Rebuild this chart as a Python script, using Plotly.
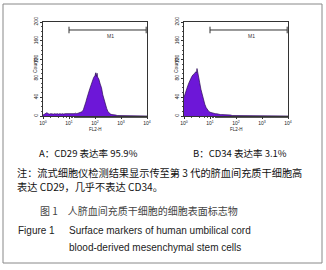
import plotly.graph_objects as go

W, H = 326, 270

# ---- data ----
# log10 channel positions (FL2-H) of histogram bins
log_pos_a = [0.00, 0.05, 0.10, 0.15, 0.20, 0.25, 0.30, 0.35, 0.40, 0.45,
             0.50, 0.55, 0.60, 0.65, 0.70, 0.75, 0.80, 0.85, 0.90, 0.95,
             1.00, 1.05, 1.10, 1.15, 1.20, 1.25, 1.30, 1.35, 1.40, 1.45,
             1.50, 1.55, 1.60, 1.65, 1.70, 1.75, 1.80, 1.85, 1.90, 1.95,
             2.00, 2.03, 2.05, 2.08, 2.10, 2.15, 2.20, 2.25, 2.30, 2.35,
             2.40, 2.45, 2.50, 2.55, 2.60, 2.65, 2.70, 2.75, 2.80, 2.85,
             2.90, 2.95, 3.00, 3.10, 3.20, 3.30, 3.40, 3.60, 3.80, 4.00]
counts_a = [2, 4, 6, 7, 5, 4, 5, 4, 4, 5,
            4, 5, 4, 5, 4, 5, 4, 5, 5, 4,
            5, 5, 4, 5, 5, 6, 5, 6, 7, 7,
            9, 13, 20, 30, 40, 51, 58, 66, 75, 82,
            86, 92, 84, 91, 83, 78, 68, 60, 45, 33,
            24, 16, 9, 6, 4, 3, 3, 2, 2, 1,
            1, 1, 1, 1, 0, 0, 0, 0, 0, 0]

log_pos_b = [0.00, 0.05, 0.10, 0.15, 0.20, 0.25, 0.30, 0.35, 0.40, 0.45,
             0.48, 0.50, 0.52, 0.55, 0.60, 0.65, 0.70, 0.75, 0.80, 0.85,
             0.90, 0.95, 1.00, 1.05, 1.10, 1.15, 1.20, 1.25, 1.30, 1.35,
             1.40, 1.45, 1.50, 1.55, 1.60, 1.65, 1.70, 1.75, 1.80, 1.85,
             1.90, 1.95, 2.00, 2.05, 2.10, 2.15, 2.30, 2.60, 3.00, 4.00]
counts_b = [40, 50, 58, 65, 72, 79, 84, 88, 90, 94,
            92, 101, 93, 86, 72, 57, 44, 33, 25, 18,
            13, 10, 8, 7, 6, 6, 5, 5, 4, 4,
            3, 3, 3, 3, 2, 2, 2, 2, 2, 1,
            1, 1, 1, 1, 1, 0, 0, 0, 0, 0]

y_ticks = [0, 40, 80, 120, 160, 200]
x_ticks = [1, 10, 100, 1000, 10000]
x_tick_text = ["10<sup>0</sup>", "10<sup>1</sup>", "10<sup>2</sup>",
               "10<sup>3</sup>", "10<sup>4</sup>"]

gate_lo, gate_hi, gate_y, gate_cap = 10, 9300, 183, 7
gate_name = "M1"

label_a = "A：CD29 表达率 95.9%"
label_b = "B：CD34 表达率 3.1%"
note_1 = "注：流式细胞仪检测结果显示传至第 3 代的脐血间充质干细胞高"
note_2 = "表达 CD29，几乎不表达 CD34。"
cap_cn = "图 1　人脐血间充质干细胞的细胞表面标志物"
cap_en_1a = "Figure 1"
cap_en_1b = "Surface markers of human umbilical cord"
cap_en_2 = "blood-derived mesenchymal stem cells"

# ---- helpers ----
def px(x):
    return x / W

def py(y):
    return 1 - y / H

FILL = "#6d17d8"
EDGE = "#2b0b55"
CJK = "Noto Sans CJK SC"
LAT = "Liberation Sans, Arial"

fig = go.Figure()

for i, (lp, cnt) in enumerate([(log_pos_a, counts_a), (log_pos_b, counts_b)]):
    xa = "x" if i == 0 else "x2"
    ya = "y" if i == 0 else "y2"
    fig.add_trace(go.Scatter(
        x=[10 ** v for v in lp], y=cnt, mode="lines", fill="tozeroy",
        fillcolor=FILL, line=dict(color=EDGE, width=0.7),
        xaxis=xa, yaxis=ya, showlegend=False, hoverinfo="skip"))
    fig.add_trace(go.Scatter(
        x=[gate_lo, gate_lo, None, gate_lo, gate_hi, None, gate_hi, gate_hi],
        y=[gate_y - gate_cap, gate_y + gate_cap, None, gate_y, gate_y, None,
           gate_y - gate_cap, gate_y + gate_cap],
        mode="lines", line=dict(color="#333333", width=1),
        xaxis=xa, yaxis=ya, showlegend=False, hoverinfo="skip"))

plot_x = [(43, 147), (184, 288)]
plot_top, plot_bot = 22, 116

common_x = dict(type="log", range=[0, 4], tickvals=x_ticks, ticktext=x_tick_text,
                tickfont=dict(size=5, family=LAT, color="#222"),
                ticks="outside", ticklen=2, tickwidth=0.6, tickcolor="#333",
                minor=dict(ticks="outside", ticklen=1, tickwidth=0.5, tickcolor="#555"),
                showline=True, linecolor="#333", linewidth=0.9, mirror=True,
                showgrid=False, zeroline=False, automargin=False)
common_y = dict(range=[0, 200], tickvals=y_ticks, tickangle=-90,
                tickfont=dict(size=5, family=LAT, color="#222"),
                ticks="outside", ticklen=2, tickwidth=0.6, tickcolor="#333",
                minor=dict(dtick=10, ticks="outside", ticklen=1, tickwidth=0.5,
                           tickcolor="#555"),
                showline=True, linecolor="#333", linewidth=0.9, mirror=True,
                showgrid=False, zeroline=False, automargin=False)

fig.update_layout(
    xaxis=dict(domain=[px(plot_x[0][0]), px(plot_x[0][1])], anchor="y", **common_x),
    yaxis=dict(domain=[py(plot_bot), py(plot_top)], anchor="x", **common_y),
    xaxis2=dict(domain=[px(plot_x[1][0]), px(plot_x[1][1])], anchor="y2", **common_x),
    yaxis2=dict(domain=[py(plot_bot), py(plot_top)], anchor="x2", **common_y),
)


def text_at(text, x, y, size, family, color, xanchor="center", angle=0):
    return dict(text=text, x=px(x), y=py(y), xref="paper", yref="paper",
                xanchor=xanchor, yanchor="middle", textangle=angle,
                showarrow=False, font=dict(size=size, family=family, color=color))


ann = []
for i, (x0, x1) in enumerate(plot_x):
    xa = "x" if i == 0 else "x2"
    ya = "y" if i == 0 else "y2"
    ann.append(text_at("Counts", x0 - 8, 65, 5, LAT, "#222", angle=-90))
    ann.append(text_at("FL2-H", (x0 + x1) / 2, 129, 4.5, LAT, "#222"))
    ann.append(dict(text=gate_name, x=2.6, y=171, xref=xa, yref=ya, showarrow=False,
                    xanchor="center", yanchor="middle",
                    font=dict(size=5, family=LAT, color="#333")))

ann += [
    text_at(label_a, 88, 153, 9.5, CJK, "#111"),
    text_at(label_b, 240, 153, 9.5, CJK, "#111"),
    text_at(note_1, 15, 172, 10.2, CJK, "#111", xanchor="left"),
    text_at(note_2, 15, 187, 10.2, CJK, "#111", xanchor="left"),
    text_at(cap_cn, 38, 210, 10, CJK, "#444", xanchor="left"),
    text_at(cap_en_1a, 16, 230, 10, LAT, "#222", xanchor="left"),
    text_at(cap_en_1b, 67, 230, 10, LAT, "#222", xanchor="left"),
    text_at(cap_en_2, 67, 247, 10, LAT, "#222", xanchor="left"),
]

fig.update_layout(
    width=W, height=H, margin=dict(l=0, r=0, t=0, b=0),
    paper_bgcolor="white", plot_bgcolor="white",
    annotations=ann,
    shapes=[dict(type="rect", xref="paper", yref="paper",
                 x0=px(3), x1=px(322), y0=py(263), y1=py(4),
                 line=dict(color="#888", width=1), fillcolor="rgba(0,0,0,0)")],
)

fig.write_html("out.html", config={"displayModeBar": False},
               post_script="document.body.style.margin='0';")
